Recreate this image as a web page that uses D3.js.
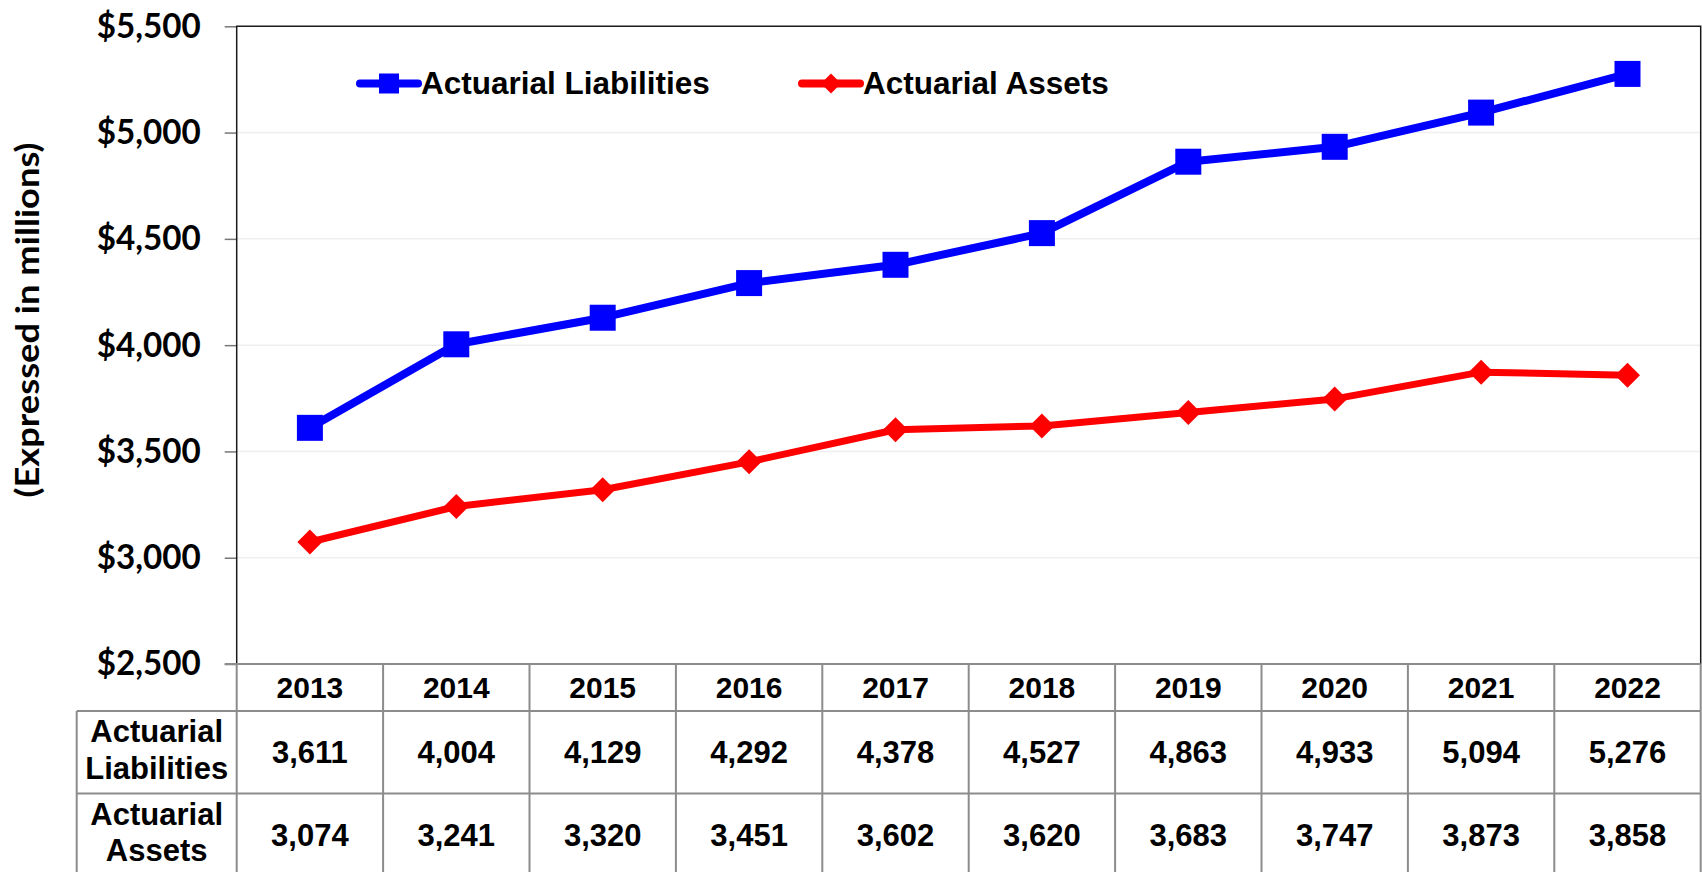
<!DOCTYPE html>
<html>
<head>
<meta charset="utf-8">
<script src="https://cdn.jsdelivr.net/npm/d3@7"></script>
<style>
    html, body { margin: 0; padding: 0; background: #fff; }
    svg { display: block; }
</style>
</head>
<body>
<div id="chart"></div>
<script>
// chart data
const years = ["2013", "2014", "2015", "2016", "2017", "2018", "2019", "2020", "2021", "2022"];
const liabilities = [3611, 4004, 4129, 4292, 4378, 4527, 4863, 4933, 5094, 5276];
const assets = [3074, 3241, 3320, 3451, 3602, 3620, 3683, 3747, 3873, 3858];
const yTicks = [2500, 3000, 3500, 4000, 4500, 5000, 5500];

const series = [
    { name: "Actuarial Liabilities", rowLabel: ["Actuarial", "Liabilities"], values: liabilities, color: "#0000ff", width: 8, marker: "square" },
    { name: "Actuarial Assets", rowLabel: ["Actuarial", "Assets"], values: assets, color: "#ff0000", width: 7, marker: "diamond" }
];

const width = 1702;
const height = 872;
const plot = { left: 236.7, right: 1700.7, top: 26.3, bottom: 664 };
const headerH = 47;
const rowH = 82.5;
const labelLeft = 76.7;

const svg = d3.select("#chart")
    .append("svg")
    .attr("width", width)
    .attr("height", height);

const x = d3.scaleBand()
    .domain(years)
    .range([plot.left, plot.right]);

const y = d3.scaleLinear()
    .domain([2500, 5500])
    .range([plot.bottom, plot.top]);

// gridlines
svg.append("g")
    .selectAll("line")
    .data(yTicks.slice(1, -1))
    .join("line")
    .attr("x1", plot.left)
    .attr("x2", plot.right)
    .attr("y1", d => y(d))
    .attr("y2", d => y(d))
    .attr("stroke", "#efefef")
    .attr("stroke-width", 1.5);

// y axis with outside ticks
const yAxis = svg.append("g")
    .attr("transform", `translate(${plot.left},0)`)
    .call(d3.axisLeft(y).tickValues(yTicks).tickSize(12).tickPadding(24)
        .tickFormat(d => "$" + d3.format(",")(d)));
yAxis.select(".domain").remove();
yAxis.selectAll(".tick line").attr("stroke", "#777").attr("stroke-width", 1.5);
yAxis.selectAll(".tick text")
    .attr("fill", "#000")
    .attr("textLength", 104)
    .attr("lengthAdjust", "spacingAndGlyphs")
    .style("font-family", "Lato, 'Open Sans', sans-serif")
    .style("font-weight", "bold")
    .style("font-size", "34px");

// plot frame (top, left, right)
svg.append("path")
    .attr("d", `M${plot.left},${plot.bottom}V${plot.top}H${plot.right}V${plot.bottom}`)
    .attr("fill", "none")
    .attr("stroke", "#1a1a1a")
    .attr("stroke-width", 1.5);

// y axis title
svg.append("text")
    .attr("transform", `translate(39,320) rotate(-90)`)
    .attr("text-anchor", "middle")
    .attr("textLength", 355)
    .attr("lengthAdjust", "spacingAndGlyphs")
    .style("font-family", "Lato, 'Open Sans', sans-serif")
    .style("font-weight", "bold")
    .style("font-size", "33px")
    .text("(Expressed in millions)");

const cx = i => x(years[i]) + x.bandwidth() / 2;

const line = d3.line()
    .x((d, i) => cx(i))
    .y(d => y(d));

function markerPath(type, size) {
    // size = visible width of the marker in px
    if (type === "square") return d3.symbol(d3.symbolSquare, size * size)();
    const side = size / Math.SQRT2;
    return d3.symbol(d3.symbolSquare, side * side)();
}

series.forEach(s => {
    svg.append("path")
        .datum(s.values)
        .attr("d", line)
        .attr("fill", "none")
        .attr("stroke", s.color)
        .attr("stroke-width", s.width)
        .attr("stroke-linejoin", "round")
        .attr("stroke-linecap", "round");

    svg.append("g")
        .selectAll("path")
        .data(s.values)
        .join("path")
        .attr("d", markerPath(s.marker, s.marker === "square" ? 26 : 25))
        .attr("transform", (d, i) => `translate(${cx(i)},${y(d)})` + (s.marker === "diamond" ? " rotate(45)" : ""))
        .attr("fill", s.color);
});

// legend
const legendX = [360, 802];
const legend = svg.append("g")
    .selectAll("g")
    .data(series)
    .join("g")
    .attr("transform", (d, i) => `translate(${legendX[i]},83.5)`);

legend.append("line")
    .attr("x1", 0)
    .attr("x2", 58)
    .attr("stroke", d => d.color)
    .attr("stroke-width", 8)
    .attr("stroke-linecap", "round");

legend.append("path")
    .attr("d", d => markerPath(d.marker, 20))
    .attr("transform", d => "translate(29,0)" + (d.marker === "diamond" ? " rotate(45)" : ""))
    .attr("fill", d => d.color);

legend.append("text")
    .attr("x", 61)
    .attr("y", 10.5)
    .style("font-family", "'Liberation Sans', Arial, sans-serif")
    .style("font-weight", "bold")
    .style("font-size", "31.5px")
    .text(d => d.name);

// data table under the axis
const table = svg.append("g");
const tableFont = "'Liberation Sans', Arial, sans-serif";
const gridColor = "#8c8c8c";
const rowTop = i => plot.bottom + headerH + i * rowH;

// header row with years
table.selectAll(".year")
    .data(years)
    .join("text")
    .attr("class", "year")
    .attr("x", d => x(d) + x.bandwidth() / 2)
    .attr("y", plot.bottom + headerH / 2)
    .attr("dy", "0.36em")
    .attr("text-anchor", "middle")
    .style("font-family", tableFont)
    .style("font-weight", "bold")
    .style("font-size", "30px")
    .text(d => d);

series.forEach((s, r) => {
    const mid = rowTop(r) + rowH / 2;

    table.append("g")
        .selectAll("text")
        .data(s.values)
        .join("text")
        .attr("x", (d, i) => cx(i))
        .attr("y", mid)
        .attr("dy", "0.36em")
        .attr("text-anchor", "middle")
        .style("font-family", tableFont)
        .style("font-weight", "bold")
        .style("font-size", "31px")
        .text(d => d3.format(",")(d));

    table.append("text")
        .attr("x", (labelLeft + plot.left) / 2)
        .attr("y", mid)
        .attr("text-anchor", "middle")
        .style("font-family", tableFont)
        .style("font-weight", "bold")
        .style("font-size", "31px")
        .selectAll("tspan")
        .data(s.rowLabel)
        .join("tspan")
        .attr("x", (labelLeft + plot.left) / 2)
        .attr("y", (d, i) => mid - 10 + i * 36.6)
        .text(d => d);
});

// table grid lines
const tableBottom = rowTop(series.length);
const hLines = [
    { y: plot.bottom, x1: plot.left - 12 },
    { y: rowTop(0), x1: labelLeft },
    { y: rowTop(1), x1: labelLeft }
];
table.selectAll(".hline")
    .data(hLines)
    .join("line")
    .attr("class", "hline")
    .attr("x1", d => d.x1)
    .attr("x2", plot.right)
    .attr("y1", d => d.y)
    .attr("y2", d => d.y)
    .attr("stroke", gridColor)
    .attr("stroke-width", 2);

table.selectAll(".vline")
    .data(years.concat(["end"]))
    .join("line")
    .attr("class", "vline")
    .attr("x1", d => d === "end" ? plot.right : x(d))
    .attr("x2", d => d === "end" ? plot.right : x(d))
    .attr("y1", plot.bottom)
    .attr("y2", tableBottom)
    .attr("stroke", gridColor)
    .attr("stroke-width", 2);

table.append("line")
    .attr("x1", labelLeft)
    .attr("x2", labelLeft)
    .attr("y1", rowTop(0))
    .attr("y2", tableBottom)
    .attr("stroke", gridColor)
    .attr("stroke-width", 2);
</script>
</body>
</html>
